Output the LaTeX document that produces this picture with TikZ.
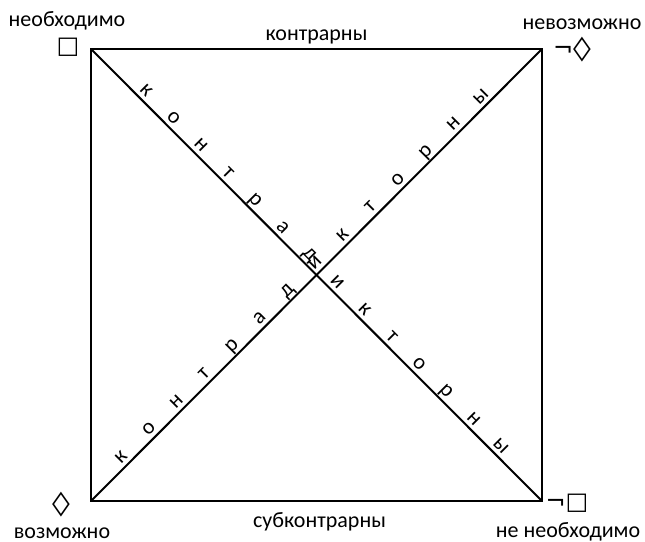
\documentclass[tikz,border=0pt]{standalone}
\usepackage{fontspec}
\setmainfont{Carlito}
\newfontfamily\symfont{DejaVu Sans}
\usetikzlibrary{positioning}
\tikzset{
  every node/.style={font=\fontsize{22}{26}\selectfont},
  lbl/.style={anchor=base,inner sep=0pt},
  sym/.style={font=\symfont\fontsize{24}{26}\selectfont,inner sep=0pt},
  letter/.style={sloped,above,inner sep=4.5pt,text depth=0pt},
  frame/.style={line width=2pt},
}
\newcommand{\lozenge}{\scalebox{1.5}[1]{◊}}
\begin{document}
\begin{tikzpicture}[x=1pt,y=-1pt]
\useasboundingbox (0,0) rectangle (645,541);

\coordinate (nec) at (91,49);
\coordinate (imp) at (542,49);
\coordinate (psb) at (91,501);
\coordinate (nnec) at (542,501);

\draw[frame] (nec) -- (imp) -- (nnec) -- (psb) -- cycle;
\draw[frame] (nec) -- (nnec);
\draw[frame] (psb) -- (imp);

% letters along the diagonals
\foreach \c [count=\i from 0] in {к,о,н,т,р,а,д,и,к,т,о,р,н,ы}{
  \path (nec) -- (nnec) node[letter,pos=0.107+0.0605*\i] {\c};
  \path (psb) -- (imp) node[letter,pos=0.082+0.0614*\i] {\c};
}

\node[lbl] (top) at (316.5,40) {контрарны};
\node[lbl] (bottom) at (319.5,527) {субконтрарны};

\node[lbl] (necl) at (67,26) {необходимо};
\node[lbl] (impl) at (582,29) {невозможно};
\node[lbl] (psbl) at (62,538) {возможно};
\node[lbl] (nnecl) at (568,537) {не необходимо};

\node[sym] (necs) at (68,47) {□};
\node[sym] (imps) at (572,50) {¬\lozenge};
\node[sym] (psbs) at (61,505) {\lozenge};
\node[sym] (nnecs) at (567,503) {¬□};
\end{tikzpicture}
\end{document}
